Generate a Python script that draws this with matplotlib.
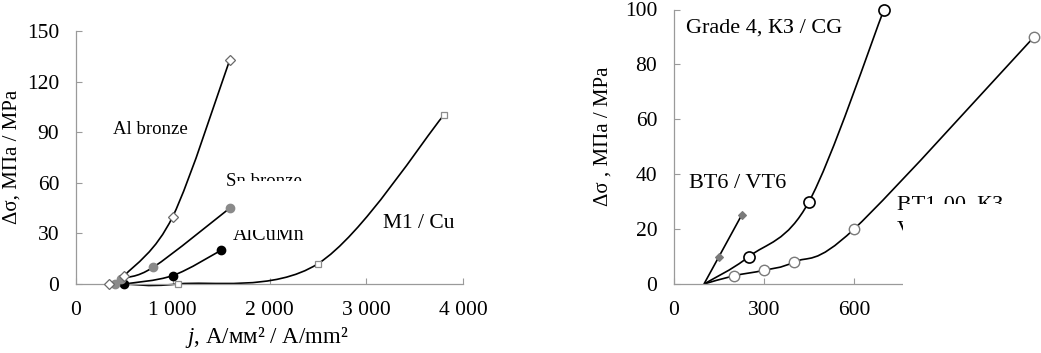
import matplotlib
matplotlib.use('Agg')
import matplotlib.pyplot as plt
import numpy as np
from matplotlib.path import Path
from matplotlib.patches import PathPatch, Rectangle

plt.rcParams['font.family'] = ['Liberation Serif', 'DejaVu Serif']
plt.rcParams['mathtext.fontset'] = 'custom'
plt.rcParams['mathtext.rm'] = 'Liberation Serif'
plt.rcParams['mathtext.it'] = 'Liberation Serif:italic'

W, H = 1041, 353

# ---- left panel data (current density j, A/mm^2 vs stress drop, MPa)
al_bronze_j = [340, 500, 1000, 1590]
al_bronze_ds = [0, 5, 40, 133]
sn_bronze_j = [400, 460, 800, 1590]
sn_bronze_ds = [0, 3, 10, 45]
alcumn_j = [500, 1000, 1500]
alcumn_ds = [0, 5, 20]
cu_j = [500, 1050, 2500, 3800]
cu_ds = [0, 0, 12, 100]

# ---- right panel data
vt6_j = [100, 150, 225]
vt6_ds = [0, 10, 25]
grade4_j = [100, 250, 450, 700]
grade4_ds = [0, 10, 30, 100]
vt100_j = [100, 200, 300, 400, 600, 1200]
vt100_ds = [0, 3, 5, 8, 20, 90]

left_xticks = [0, 1000, 2000, 3000, 4000]
left_xticklabels = ['0', '1 000', '2 000', '3 000', '4 000']
left_yticks = [0, 30, 60, 90, 120, 150]
right_xticks = [0, 300, 600]
right_yticks = [0, 20, 40, 60, 80, 100]

SPINE = '#9a9a9a'


def smooth_path(x, y):
    p = np.column_stack([x, y]).astype(float)
    n = len(p)
    verts = [p[0]]
    codes = [Path.MOVETO]
    for i in range(n - 1):
        p0 = p[i - 1] if i > 0 else p[i]
        p3 = p[i + 2] if i + 2 < n else p[i + 1]
        c1 = p[i] + (p[i + 1] - p0) / 6.0
        c2 = p[i + 1] - (p3 - p[i]) / 6.0
        verts += [c1, c2, p[i + 1]]
        codes += [Path.CURVE4] * 3
    return Path(verts, codes)


def series(ax, x, y, marker, ms, mfc, mec, mew=1.0, skip_first=False):
    ax.add_patch(PathPatch(smooth_path(x, y), facecolor='none', edgecolor='black',
                           lw=1.2, zorder=2, clip_on=False))
    xs, ys = (x[1:], y[1:]) if skip_first else (x, y)
    ax.plot(xs, ys, linestyle='none', marker=marker, ms=ms, mfc=mfc, mec=mec,
            mew=mew, zorder=3, clip_on=False)


def style(ax):
    for s in ['top', 'right']:
        ax.spines[s].set_visible(False)
    for s in ['left', 'bottom']:
        ax.spines[s].set_color(SPINE)
        ax.spines[s].set_linewidth(0.9)
    ax.tick_params(direction='in', length=4, width=0.8, color=SPINE,
                   labelsize=15.5, pad=12)


fig = plt.figure(figsize=(W / 100, H / 100), dpi=100)

# ---------------- left axes
ax1 = fig.add_axes([76 / W, (H - 284) / H, (463 - 76) / W, (284 - 31) / H])
style(ax1)
ax1.set_xlim(0, 4000)
ax1.set_ylim(0, 150)
ax1.set_xticks(left_xticks)
ax1.set_xticklabels(left_xticklabels)
ax1.set_yticks(left_yticks)

series(ax1, cu_j, cu_ds, 's', 5, 'white', '#8c8c8c', 0.9, skip_first=True)
series(ax1, alcumn_j, alcumn_ds, 'o', 6, 'black', 'black')
series(ax1, sn_bronze_j, sn_bronze_ds, 'o', 6, '#8a8a8a', '#8a8a8a')
series(ax1, al_bronze_j, al_bronze_ds, 'D', 5, 'white', '#6a6a6a', 0.9)

# ---------------- right axes
ax2 = fig.add_axes([674 / W, (H - 284) / H, 360 / W, 274.5 / H])
style(ax2)
ax2.set_xlim(0, 1200)
ax2.set_ylim(0, 100)
ax2.set_xticks(right_xticks)
ax2.set_yticks(right_yticks)
ax2.spines['bottom'].set_bounds(0, 760)

series(ax2, vt100_j, vt100_ds, 'o', 7.5, 'white', '#7a7a7a', 1.0, skip_first=True)
series(ax2, grade4_j, grade4_ds, 'o', 8, 'white', 'black', 1.2, skip_first=True)
series(ax2, vt6_j, vt6_ds, 'D', 4, '#7a7a7a', '#7a7a7a', 0.8, skip_first=True)


def ftext(x, y, s, **kw):
    kw.setdefault('zorder', 1)
    return fig.text(x / W, 1 - y / H, s, **kw)


# axis titles
ftext(12, 157, 'Δσ, МПа / MPa', rotation=90, ha='center', va='center', fontsize=15)
ftext(267, 337, '$j$, А/мм² / A/mm²', ha='center', va='center', fontsize=16.5)
ftext(603, 136, 'Δσ , МПа / MPa', rotation=90, ha='center', va='center', fontsize=15)

# curve labels (left)
ftext(113, 129, 'Al bronze', ha='left', va='center', fontsize=13.5)
ftext(226, 182, 'Sn bronze', ha='left', va='center', fontsize=13.5)
ftext(233, 236, 'AlCuMn', ha='left', va='center', fontsize=14.5)
ftext(383, 224, 'M1 / Cu', ha='left', va='center', fontsize=15.5)

# curve labels (right)
ftext(686, 28, 'Grade 4, КЗ / CG', ha='left', va='center', fontsize=16)
ftext(689, 184, 'ВТ6 / VT6', ha='left', va='center', fontsize=16)
ftext(897, 205, 'ВТ1-00, КЗ', ha='left', va='center', fontsize=16)
ftext(897, 230, 'VT1-00, CG', ha='left', va='center', fontsize=16)

# label boxes that hide parts of the labels, as in the source figure
for (x0, y0, x1, y1) in [(236, 181, 312, 230), (903, 204, 1041, 300)]:
    fig.add_artist(Rectangle((x0 / W, 1 - y1 / H), (x1 - x0) / W, (y1 - y0) / H,
                             transform=fig.transFigure, facecolor='white',
                             edgecolor='none', zorder=2))

fig.savefig('out.png', dpi=100, facecolor='white')
